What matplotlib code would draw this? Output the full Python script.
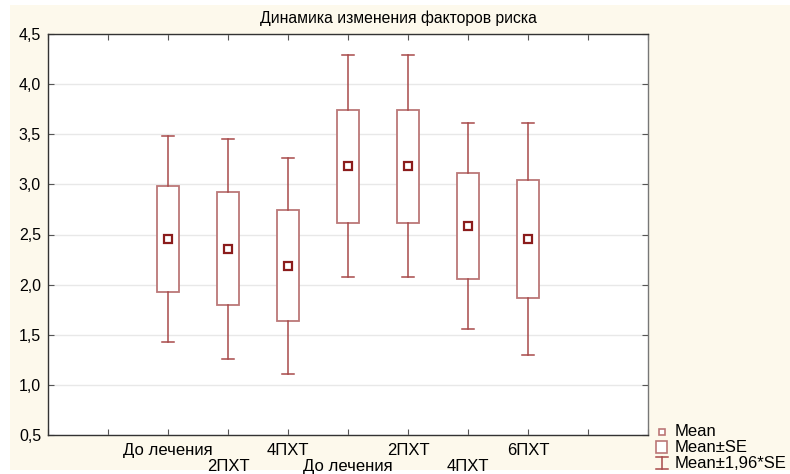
import matplotlib
matplotlib.use("Agg")
import matplotlib.pyplot as plt
from matplotlib.patches import Rectangle
from matplotlib.transforms import blended_transform_factory, offset_copy

plt.rcParams['font.family'] = ['Liberation Sans', 'DejaVu Sans']

# Group labels (two stacked rows) and summary statistics per group
categories = ["До лечения", "2ПХТ", "4ПХТ", "До лечения", "2ПХТ", "4ПХТ", "6ПХТ"]
label_row = [0, 1, 0, 1, 0, 1, 0]
means = [2.455, 2.36, 2.19, 3.18, 3.18, 2.585, 2.455]
se = [0.525, 0.56, 0.55, 0.565, 0.565, 0.525, 0.588]
positions = [2, 3, 4, 5, 6, 7, 8]
y_ticks = [0.5, 1.0, 1.5, 2.0, 2.5, 3.0, 3.5, 4.0, 4.5]
title = "Динамика изменения факторов риска"

W, H = 790, 474
fig = plt.figure(figsize=(W / 100, H / 100), dpi=100)
fig.patch.set_facecolor("white")
fig.patches.append(Rectangle((10 / W, 4 / H), 1 - 10 / W, 1 - 9 / H,
                             transform=fig.transFigure, facecolor="#fdf9ec",
                             edgecolor="none", zorder=-10))

L, R, T, B = 48, 648, 34, 435
ax = fig.add_axes([L / W, 1 - B / H, (R - L) / W, (B - T) / H])
ax.set_facecolor("white")

box_col = "#bb7777"
whisk_col = "#a84a4a"
mean_col = "#8b1c1c"
box_w = 0.38
cap_w = 0.2

for x, m, s in zip(positions, means, se):
    lo, hi = m - s, m + s
    wlo, whi = m - 1.96 * s, m + 1.96 * s
    ax.add_patch(Rectangle((x - box_w / 2, lo), box_w, hi - lo, facecolor="white",
                           edgecolor=box_col, lw=1.3, zorder=3))
    ax.plot([x, x], [hi, whi], color=whisk_col, lw=1.1, zorder=3)
    ax.plot([x, x], [wlo, lo], color=whisk_col, lw=1.1, zorder=3)
    ax.plot([x - cap_w / 2, x + cap_w / 2], [whi, whi], color=whisk_col, lw=1.1, zorder=3)
    ax.plot([x - cap_w / 2, x + cap_w / 2], [wlo, wlo], color=whisk_col, lw=1.1, zorder=3)
    ax.plot([x], [m], marker="s", ms=6, mfc="white", mec=mean_col, mew=1.6, zorder=4)

ax.set_xlim(0, 10)
ax.set_ylim(0.5, 4.5)
ax.set_xticks(range(11))
ax.set_xticklabels([])
ax.set_yticks(y_ticks)
ax.set_yticklabels([f"{v:.1f}".replace(".", ",") for v in y_ticks], fontsize=11.5)
ax.tick_params(direction="in", length=4, width=0.8, color="#555555",
               top=True, right=True, pad=5)
ax.grid(axis="y", color="#e8e8e8", lw=1.0)
ax.set_axisbelow(True)
for side in ["left", "bottom", "top"]:
    ax.spines[side].set_color("#333333")
ax.spines["right"].set_color("#777777")
for sp in ax.spines.values():
    sp.set_linewidth(1.0)

trans = blended_transform_factory(ax.transData, ax.transAxes)
for x, lab, row in zip(positions, categories, label_row):
    t = offset_copy(trans, fig=fig, x=0, y=-(8 + 16 * row) * 72 / 100, units="points")
    ax.text(x, 0, lab, transform=t, ha="center", va="top", fontsize=12)

fig.text(398 / W, 1 - 18 / H, title, ha="center", va="center", fontsize=11.3)

# Legend drawn in figure pixel coordinates
lg = fig.add_axes([0, 0, 1, 1], facecolor="none")
lg.set_xlim(0, W)
lg.set_ylim(H, 0)
lg.axis("off")
lg.plot([662], [432], marker="s", ms=4.5, mfc="white", mec=box_col, mew=1.2)
lg.add_patch(Rectangle((656, 441), 11, 12, facecolor="white", edgecolor=box_col, lw=1.2))
lg.plot([662, 662], [457, 469], color=whisk_col, lw=1.1)
lg.plot([656, 668], [457, 457], color=whisk_col, lw=1.1)
lg.plot([656, 668], [469, 469], color=whisk_col, lw=1.1)
for yy, txt in zip([432, 448, 463], ["Mean", "Mean±SE", "Mean±1,96*SE"]):
    lg.text(675, yy, txt, ha="left", va="center", fontsize=12)

fig.savefig("out.png", dpi=100)
